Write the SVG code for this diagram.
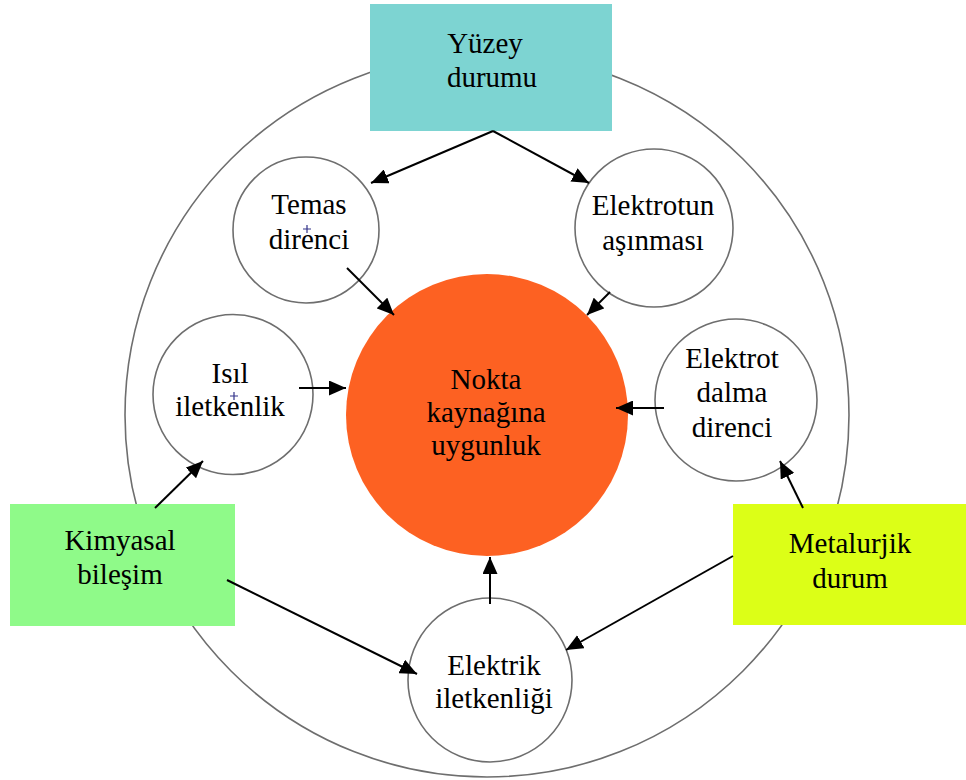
<svg xmlns="http://www.w3.org/2000/svg" width="966" height="780" viewBox="0 0 966 780">
  <style>
    .ring { fill: none; stroke: #6e6e6e; stroke-width: 1.6; }
    .node { fill: #ffffff; stroke: #6e6e6e; stroke-width: 1.6; }
    .lbl { font-family: "Liberation Serif", "Times New Roman", serif; font-size: 29px; fill: #000; text-anchor: middle; }
    .link { stroke: #000; stroke-width: 2; fill: none; marker-end: url(#head); }
    .mark { stroke: #33338a; stroke-width: 1.2; fill: none; }
  </style>
  <defs>
    <marker id="head" markerUnits="userSpaceOnUse" markerWidth="17" markerHeight="15" refX="17" refY="7.5" orient="auto">
      <path d="M0,0 L17,7.5 L0,15 z" fill="#000"/>
    </marker>
  </defs>

  <rect width="966" height="780" fill="#ffffff"/>

  <!-- outer boundary ring -->
  <circle class="ring" cx="487" cy="415" r="362"/>

  <!-- central goal -->
  <g id="nokta">
    <circle cx="487" cy="415" r="141" fill="#fd6122"/>
    <path d="M482,415 h7 M485.5,411.5 v7" stroke="#c060b0" stroke-width="1.2"/>
    <text class="lbl" x="486" y="389">Nokta</text>
    <text class="lbl" x="486" y="422">kaynağına</text>
    <text class="lbl" x="486" y="455">uygunluk</text>
  </g>

  <!-- influencing properties -->
  <g id="temas">
    <circle class="node" cx="306" cy="230" r="73"/>
    <path class="mark" d="M303,229 h8 M307,225 v8"/>
    <text class="lbl" x="309" y="214">Temas</text>
    <text class="lbl" x="309" y="249">direnci</text>
  </g>

  <g id="asinma">
    <circle class="node" cx="654" cy="228" r="79"/>
    <text class="lbl" x="653" y="215">Elektrotun</text>
    <text class="lbl" x="653" y="250">aşınması</text>
  </g>

  <g id="isil">
    <circle class="node" cx="233" cy="394.5" r="80"/>
    <path class="mark" d="M230,396 h8 M234,392 v8"/>
    <text class="lbl" x="230" y="383">Isıl</text>
    <text class="lbl" x="230" y="416">iletkenlik</text>
  </g>

  <g id="dalma">
    <circle class="node" cx="736" cy="400" r="81"/>
    <text class="lbl" x="732" y="368">Elektrot</text>
    <text class="lbl" x="732" y="402">dalma</text>
    <text class="lbl" x="732" y="437">direnci</text>
  </g>

  <g id="elektrik">
    <circle class="node" cx="490" cy="680" r="82"/>
    <text class="lbl" x="494" y="675">Elektrik</text>
    <text class="lbl" x="494" y="708">iletkenliği</text>
  </g>

  <!-- source conditions -->
  <g id="yuzey">
    <rect x="370" y="4" width="242" height="127" fill="#7dd4d2"/>
    <text class="lbl" x="485" y="53">Yüzey</text>
    <text class="lbl" x="492" y="87">durumu</text>
  </g>

  <g id="kimyasal">
    <rect x="10" y="504" width="225" height="122" fill="#8ffa89"/>
    <text class="lbl" x="120" y="550">Kimyasal</text>
    <text class="lbl" x="120" y="584">bileşim</text>
  </g>

  <g id="metalurjik">
    <rect x="733" y="504" width="233" height="121" fill="#dcff17"/>
    <text class="lbl" x="850" y="553">Metalurjik</text>
    <text class="lbl" x="850" y="588">durum</text>
  </g>

  <!-- connectors -->
  <g id="connectors">
    <line class="link" x1="493" y1="131" x2="371" y2="183"/>
    <line class="link" x1="493" y1="131" x2="589" y2="183"/>
    <line class="link" x1="347" y1="268" x2="394" y2="315"/>
    <line class="link" x1="610" y1="292" x2="587" y2="315"/>
    <line class="link" x1="299" y1="388" x2="346" y2="388"/>
    <line class="link" x1="664" y1="408" x2="616" y2="408"/>
    <line class="link" x1="490" y1="604" x2="490" y2="557"/>
    <line class="link" x1="155" y1="508" x2="203" y2="461"/>
    <line class="link" x1="227" y1="580" x2="417" y2="674"/>
    <line class="link" x1="733" y1="556" x2="566" y2="650"/>
    <line class="link" x1="803" y1="508" x2="780" y2="461"/>
  </g>
</svg>
